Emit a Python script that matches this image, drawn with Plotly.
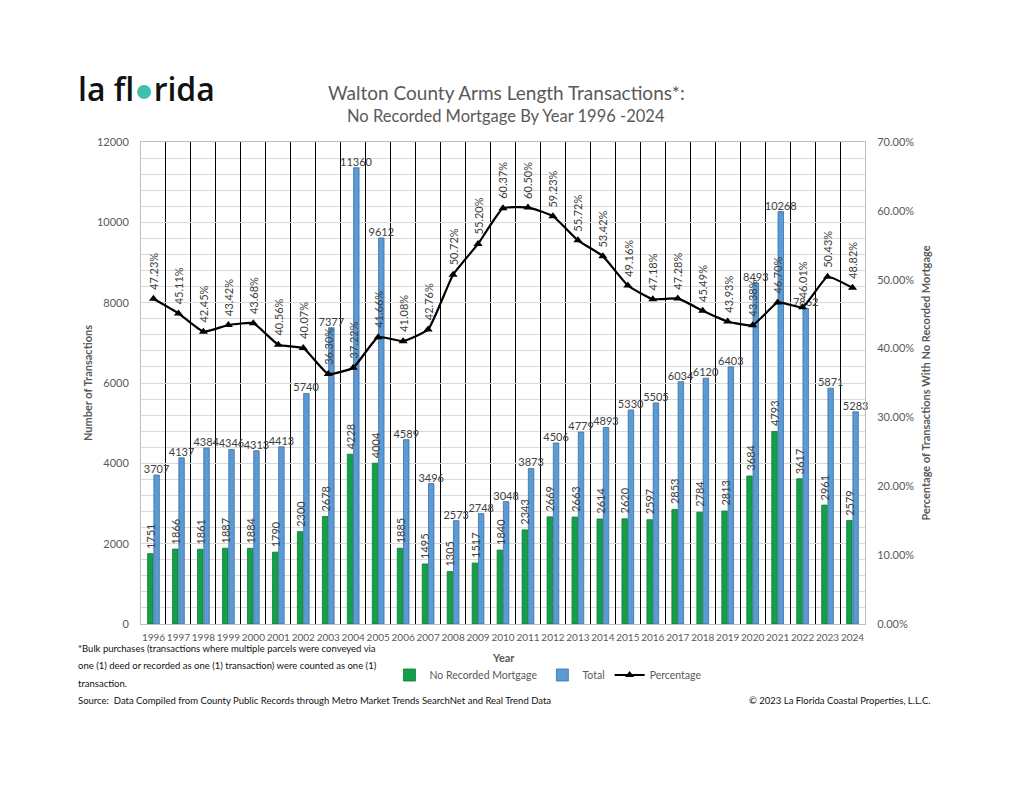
import plotly.graph_objects as go

years = [str(y) for y in range(1996, 2025)]
no_mortgage = [1751, 1866, 1861, 1887, 1884, 1790, 2300, 2678, 4228, 4004, 1885, 1495, 1305, 1517,
               1840, 2343, 2669, 2663, 2614, 2620, 2597, 2853, 2784, 2813, 3684, 4793, 3617, 2961, 2579]
total = [3707, 4137, 4384, 4346, 4313, 4413, 5740, 7377, 11360, 9612, 4589, 3496, 2573, 2748,
         3048, 3873, 4506, 4779, 4893, 5330, 5505, 6034, 6120, 6403, 8493, 10268, 7862, 5871, 5283]
percentage = [47.23, 45.11, 42.45, 43.42, 43.68, 40.56, 40.07, 36.30, 37.22, 41.66, 41.08, 42.76,
              50.72, 55.20, 60.37, 60.50, 59.23, 55.72, 53.42, 49.16, 47.18, 47.28, 45.49, 43.93,
              43.38, 46.70, 46.01, 50.43, 48.82]
footnote_lines = [
    "*Bulk purchases (transactions where multiple parcels were conveyed via",
    "one (1) deed or recorded as one (1) transaction) were counted as one (1)",
    "transaction.",
]

OFF = 8  # page body margin
W, H = 1024 - 2 * OFF, 791 - 2 * OFF
# plot area in screen pixels
L, R, T, B = 140.5, 865.5, 142, 624
FONT = "Lato"
GRAY = "#595959"
LABEL = "#404040"
BARGAP = 0.5
GREEN_OFFSET = -(1 - BARGAP) / 4  # centre of first bar in a group, category units


def px(x):
    return (x - L) / (R - L)


def py(y):
    return (B - y) / (B - T)


fig = go.Figure()
fig.add_trace(go.Bar(
    x=years, y=no_mortgage, name="No Recorded Mortgage",
    marker=dict(color="#13a049", line=dict(color="#0c7a35", width=0.8)),
))
fig.add_trace(go.Bar(
    x=years, y=total, name="Total",
    marker=dict(color="#5b9bd5", line=dict(color="#3d6f9e", width=0.8)),
    text=[str(v) for v in total], textposition="outside", textangle=0,
    textfont=dict(family=FONT, size=11, color=LABEL), constraintext="none", cliponaxis=False,
))
fig.add_trace(go.Scatter(
    x=years, y=percentage, name="Percentage", yaxis="y2", mode="lines+markers",
    line=dict(color="black", width=2.2, shape="spline", smoothing=0.4),
    marker=dict(symbol="triangle-up", size=8, color="black"),
    cliponaxis=False,
))

annotations = []
for i, p in enumerate(percentage):
    annotations.append(dict(
        x=i, y=p, xref="x", yref="y2", text=f"{p:.2f}%", textangle=-90,
        showarrow=False, yanchor="bottom", xanchor="center", yshift=7,
        font=dict(family=FONT, size=11, color=LABEL),
    ))
for i, v in enumerate(no_mortgage):
    annotations.append(dict(
        x=i + GREEN_OFFSET, y=v, xref="x", yref="y", text=str(v), textangle=-90,
        showarrow=False, yanchor="bottom", xanchor="center", yshift=3,
        font=dict(family=FONT, size=11, color=LABEL),
    ))

# logo
annotations.append(dict(
    x=px(75), y=py(89), xref="paper", yref="paper", xanchor="left", yanchor="middle",
    text="la fl<span style='color:#3fbfae'>●</span>rida", showarrow=False,
    font=dict(family="Open Sans", size=32, color="#111111", weight=600),
))
# titles
annotations.append(dict(
    x=px(507), y=py(93), xref="paper", yref="paper", xanchor="center", yanchor="middle",
    text="Walton County Arms Length Transactions*:", showarrow=False,
    font=dict(family=FONT, size=19, color=GRAY),
))
annotations.append(dict(
    x=px(506), y=py(116), xref="paper", yref="paper", xanchor="center", yanchor="middle",
    text="No Recorded Mortgage By Year 1996 -2024", showarrow=False,
    font=dict(family=FONT, size=16.5, color=GRAY),
))
# year title
annotations.append(dict(
    x=px(503), y=py(657), xref="paper", yref="paper", xanchor="center", yanchor="middle",
    text="<b>Year</b>", showarrow=False, font=dict(family=FONT, size=11, color=GRAY),
))
# footnotes
for k, line in enumerate(footnote_lines):
    annotations.append(dict(
        x=px(75), y=py(648 + 17.5 * k), xref="paper", yref="paper", xanchor="left", yanchor="middle",
        align="left", text=line, showarrow=False, font=dict(family=FONT, size=9.5, color="#111111"),
    ))
annotations.append(dict(
    x=px(75), y=py(701), xref="paper", yref="paper", xanchor="left", yanchor="middle", align="left",
    text="Source:  Data Compiled from County Public Records through Metro Market Trends SearchNet and Real Trend Data",
    showarrow=False, font=dict(family=FONT, size=9.5, color="#111111"),
))
annotations.append(dict(
    x=px(933), y=py(701), xref="paper", yref="paper", xanchor="right", yanchor="middle",
    text="© 2023 La Florida Coastal Properties, L.L.C.",
    showarrow=False, font=dict(family=FONT, size=9.5, color="#111111"),
))

fig.update_layout(
    width=W, height=H, autosize=False,
    margin=dict(l=L - OFF, r=W - (R - OFF), t=T - OFF, b=H - (B - OFF), pad=0),
    paper_bgcolor="white", plot_bgcolor="white",
    barmode="group", bargap=BARGAP, bargroupgap=0.12,
    font=dict(family=FONT, color=GRAY),
    showlegend=True,
    legend=dict(orientation="h", x=px(548), y=py(675), xanchor="center", yanchor="middle",
                font=dict(family=FONT, size=10.5, color=GRAY), itemwidth=30, tracegroupgap=0),
    annotations=annotations,
    xaxis=dict(
        type="category", tickson="boundaries", showgrid=True, gridcolor="black", gridwidth=1.3,
        ticks="", tickangle=0, tickfont=dict(family=FONT, size=10, color=GRAY), ticklabelstandoff=4,
        showline=True, linecolor="#bfbfbf", mirror=True, range=[-0.5, 28.5], automargin=False,
    ),
    yaxis=dict(
        range=[0, 12000], dtick=2000, tickformat="d", showgrid=True, gridcolor="#d9d9d9", gridwidth=1,
        minor=dict(dtick=400, showgrid=True, gridcolor="#d9d9d9", gridwidth=1),
        tickfont=dict(family=FONT, size=11, color=GRAY), ticks="", automargin=False,
        ticklabelstandoff=9,
        showline=True, linecolor="#bfbfbf", zeroline=False,
        title=dict(text="<b>Number of Transactions</b>", font=dict(family=FONT, size=11, color=GRAY),
                   standoff=2),
    ),
    yaxis2=dict(
        overlaying="y", side="right", range=[0, 70], dtick=10, tickformat=".2f", ticksuffix="%",
        showgrid=False, zeroline=False, ticks="", showline=True, linecolor="#bfbfbf",
        tickfont=dict(family=FONT, size=11, color=GRAY), automargin=False, ticklabelstandoff=9,
        title=dict(text="<b>Percentage of Transactions With No Recorded Mortgage</b>",
                   font=dict(family=FONT, size=11, color=GRAY), standoff=8),
    ),
)

fig.write_html("out.html")
